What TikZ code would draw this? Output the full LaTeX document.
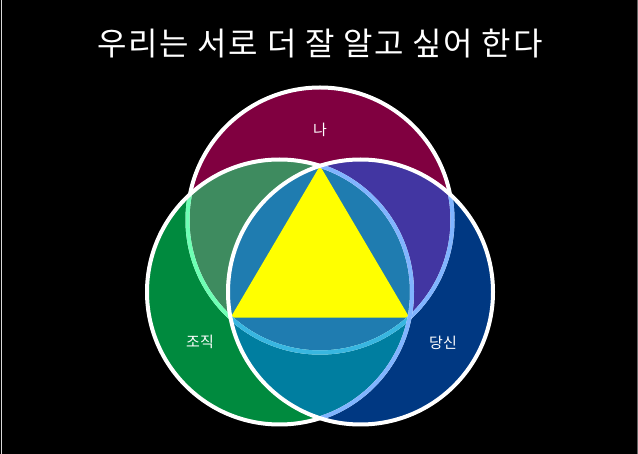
\documentclass[tikz,border=0pt]{standalone}
\usepackage{fontspec}
\newfontfamily\kr{Noto Sans CJK KR}
\newfontfamily\krt[LetterSpace=5]{Noto Sans CJK KR}
\definecolor{cT}{RGB}{128,0,64}
\definecolor{cL}{RGB}{0,138,62}
\definecolor{cR}{RGB}{0,56,130}
\definecolor{cTL}{RGB}{62,139,95}
\definecolor{cTR}{RGB}{66,54,162}
\definecolor{cLR}{RGB}{0,126,160}
\definecolor{cTLR}{RGB}{31,124,176}
\definecolor{lnL}{RGB}{110,255,180}
\definecolor{lnR}{RGB}{128,180,255}
\definecolor{lnLR}{RGB}{56,182,224}
\definecolor{tri}{RGB}{255,255,0}
\begin{document}
\begin{tikzpicture}[x=1pt,y=-1pt,
  ring/.style={line width=4pt},
  lbl/.style={text=white,font=\kr\fontsize{15}{17}\selectfont,inner sep=0pt},
  ttl/.style={text=white,font=\krt\fontsize{32}{38}\selectfont,inner sep=0pt}]
\def\rr{132.5pt}
\useasboundingbox (0,0) rectangle (638,454);
\fill[black] (0,0) rectangle (638,454);
\draw[line width=1pt,white!85!black] (1.5,0) -- (1.5,454);
\draw[line width=1pt,white!40!black] (637,0) -- (637,454);
\coordinate (T0) at (320,220);
\coordinate (L0) at (279.5,292);
\coordinate (R0) at (360.5,292);
\coordinate (vt) at (320,165.8);
\coordinate (vl) at (230.5,317.7);
\coordinate (vr) at (409.5,317.7);
% fills
\fill[cT] (T0) circle[radius=\rr];
\fill[cL] (L0) circle[radius=\rr];
\fill[cR] (R0) circle[radius=\rr];
\begin{scope}
  \clip (L0) circle[radius=\rr];
  \fill[cLR] (R0) circle[radius=\rr];
\end{scope}
\begin{scope}
  \clip (T0) circle[radius=\rr];
  \fill[cTL] (L0) circle[radius=\rr];
  \fill[cTR] (R0) circle[radius=\rr];
  \clip (L0) circle[radius=\rr];
  \fill[cTLR] (R0) circle[radius=\rr];
\end{scope}
% triangle
\fill[tri] (vt) -- (vl) -- (vr) -- cycle;
% outlines
\draw[ring,white] (T0) circle[radius=\rr];
\begin{scope}
  \clip (L0) circle[radius=\rr];
  \draw[ring,lnL] (T0) circle[radius=\rr];
\end{scope}
\begin{scope}
  \clip (R0) circle[radius=\rr];
  \draw[ring,lnR] (T0) circle[radius=\rr];
\end{scope}
\begin{scope}
  \clip (L0) circle[radius=\rr];
  \clip (R0) circle[radius=\rr];
  \draw[ring,lnLR] (T0) circle[radius=\rr];
\end{scope}
\draw[ring,white] (L0) circle[radius=\rr];
\begin{scope}
  \clip (R0) circle[radius=\rr];
  \draw[ring,lnR] (L0) circle[radius=\rr];
\end{scope}
\draw[ring,white] (R0) circle[radius=\rr];
% labels
\node[lbl] (na) at (320,130) {나};
\node[lbl] (jojik) at (200,342) {조직};
\node[lbl] (dangsin) at (443,343) {당신};
\node[ttl] (title) at (320,44) {우리는 서로 더 잘 알고 싶어 한다};
\end{tikzpicture}
\end{document}
